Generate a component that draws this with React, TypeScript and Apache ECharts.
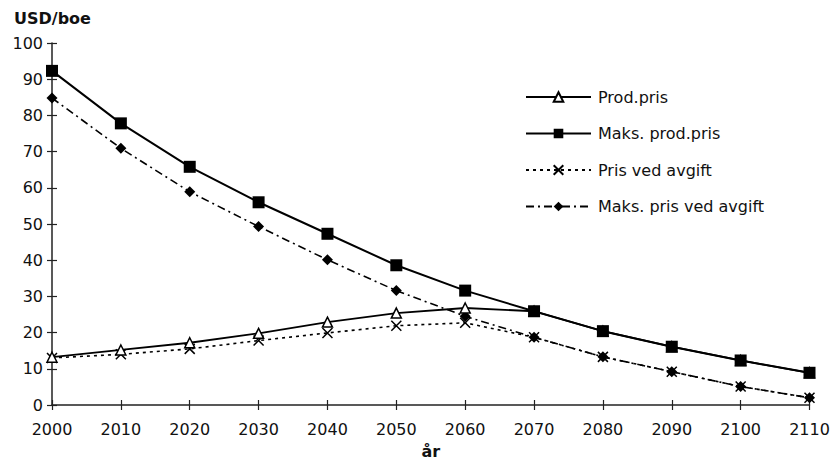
import React, { useEffect, useRef } from "react";
import * as echarts from "echarts";

const years = ["2000", "2010", "2020", "2030", "2040", "2050", "2060", "2070", "2080", "2090", "2100", "2110"];
const prodPris = [13.2, 15.2, 17.2, 19.8, 22.9, 25.4, 26.8, 25.9, 20.4, 16.1, 12.3, 8.9];
const maksProdPris = [92.3, 77.8, 65.8, 56, 47.3, 38.6, 31.6, 25.9, 20.4, 16.1, 12.3, 8.9];
const prisVedAvgift = [13, 14, 15.5, 17.8, 19.9, 21.9, 22.7, 18.7, 13.3, 9.2, 5.1, 2.0];
const maksPrisVedAvgift = [84.8, 70.9, 58.9, 49.3, 40.1, 31.6, 24.5, 18.7, 13.3, 9.2, 5.1, 2.0];
const seriesNames = ["Prod.pris", "Maks. prod.pris", "Pris ved avgift", "Maks. pris ved avgift"];

const FONT = "DejaVu Sans, Liberation Sans, Arial, sans-serif";

export default function App() {
  const ref = useRef<HTMLDivElement>(null);
  useEffect(() => {
    document.body.style.margin = "0";
    const chart = echarts.init(ref.current!, null, { renderer: "svg" });
    const legendCenters = [97, 133.5, 170, 206.5];
    const legends = seriesNames.map((n, i) => ({
      data: [n],
      orient: "vertical",
      left: 525,
      top: legendCenters[i] - 10,
      itemWidth: 65,
      itemHeight: 12,
      padding: 0,
      selectedMode: false,
      textStyle: { fontFamily: FONT, fontSize: 16, color: "#111", lineHeight: 20, padding: [0, 0, 0, 2] },
    }));
    const xCommon = {
      type: "category",
      data: years,
      boundaryGap: false,
      gridIndex: 0,
    };
    const yCommon = { type: "value", min: 0, max: 100, interval: 10, gridIndex: 0 };
    chart.setOption({
      animation: false,
      backgroundColor: "#fff",
      title: {
        text: "USD/boe",
        left: 14,
        top: 10,
        padding: 0,
        textStyle: { fontFamily: FONT, fontSize: 16, fontWeight: "bold", color: "#111" },
      },
      legend: legends,
      grid: { left: 52, right: 24.5, top: 43, bottom: 58.3 },
      xAxis: [
        {
          ...xCommon,
          name: "år",
          nameLocation: "middle",
          nameGap: 38,
          nameTextStyle: { fontFamily: FONT, fontSize: 16, fontWeight: "bold", color: "#111" },
          axisLine: { lineStyle: { color: "#222", width: 1.5 } },
          axisTick: { show: true, length: 5, alignWithLabel: true, lineStyle: { color: "#222", width: 1.2 } },
          axisLabel: { fontFamily: FONT, fontSize: 16, color: "#111", margin: 16 },
          splitLine: { show: false },
        },
        {
          ...xCommon,
          position: "bottom",
          axisLine: { show: false },
          axisTick: { show: true, inside: true, length: 5, lineStyle: { color: "#222", width: 1.2 } },
          axisLabel: { show: false },
          splitLine: { show: false },
        },
      ],
      yAxis: [
        {
          ...yCommon,
          axisLine: { show: true, lineStyle: { color: "#222", width: 1.5 } },
          axisTick: { show: true, length: 5, lineStyle: { color: "#222", width: 1.2 } },
          axisLabel: { fontFamily: FONT, fontSize: 16, color: "#111", margin: 9 },
          splitLine: { show: false },
        },
        {
          ...yCommon,
          position: "left",
          axisLine: { show: false },
          axisTick: { show: true, inside: true, length: 5, lineStyle: { color: "#222", width: 1.2 } },
          axisLabel: { show: false },
          splitLine: { show: false },
        },
      ],
      series: [
        {
          name: seriesNames[0],
          type: "line",
          data: prodPris,
          color: "#000",
          symbol: "triangle",
          symbolSize: 10,
          lineStyle: { color: "#000", width: 1.8, type: "solid" },
          itemStyle: { color: "#fff", borderColor: "#000", borderWidth: 1.5 },
          z: 3,
        },
        {
          name: seriesNames[1],
          type: "line",
          data: maksProdPris,
          color: "#000",
          symbol: "rect",
          symbolSize: 12,
          lineStyle: { color: "#000", width: 2, type: "solid" },
          itemStyle: { color: "#000" },
          z: 4,
        },
        {
          name: seriesNames[3],
          type: "line",
          data: maksPrisVedAvgift,
          color: "#000",
          symbol: "diamond",
          symbolSize: 11,
          lineStyle: { color: "#000", width: 1.6, type: [8, 4, 2, 4] },
          itemStyle: { color: "#000" },
          z: 2,
        },
        {
          name: seriesNames[2],
          type: "line",
          data: prisVedAvgift,
          color: "#000",
          symbol: "path://M0,0L10,10M0,10L10,0",
          symbolSize: 10,
          lineStyle: { color: "#000", width: 1.6, type: [3, 4] },
          itemStyle: { color: "none", borderColor: "#000", borderWidth: 1.5 },
          z: 2,
        },
      ],
    });
    return () => chart.dispose();
  }, []);
  return <div ref={ref} style={{ width: 834, height: 464, position: "absolute", left: 0, top: 0 }} />;
}
